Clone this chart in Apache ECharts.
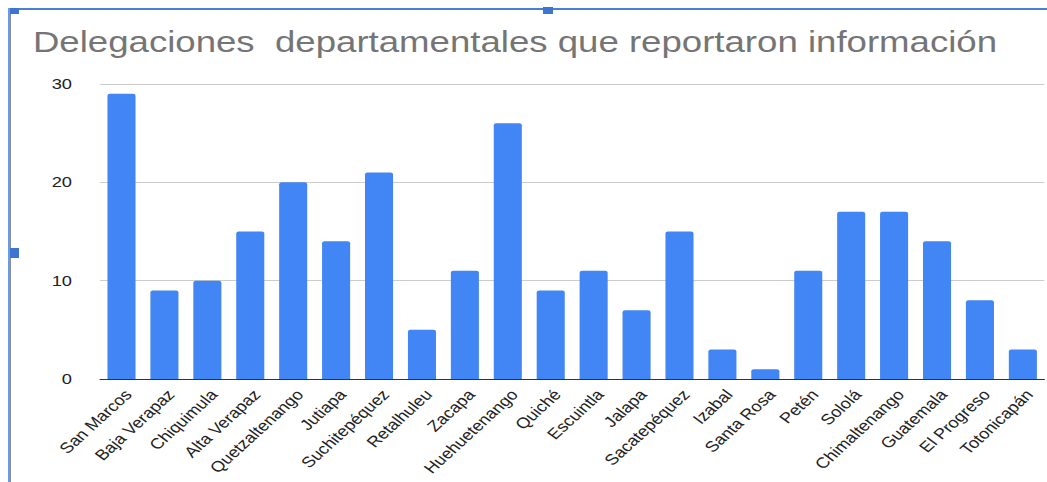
<!DOCTYPE html>
<html>
<head>
<meta charset="utf-8">
<script src="https://cdn.jsdelivr.net/npm/echarts@6/dist/echarts.min.js"></script>
<style>
html,body{margin:0;padding:0;background:#fff;overflow:hidden;}
#wrap{position:relative;width:1047px;height:482px;overflow:hidden;}
#c{position:absolute;left:0;top:0;width:858px;height:482px;transform:scaleX(1.22);transform-origin:0 0;}
.f{position:absolute;}
</style>
</head>
<body>
<div id="wrap">
<div id="c"></div>
<div class="f" style="left:10px;top:8px;width:1037px;height:2px;background:#4a7fd6;"></div>
<div class="f" style="left:8px;top:8px;width:2px;height:474px;background:#6b9be6;"></div>
<div class="f" style="left:10px;top:10px;width:1px;height:472px;background:#8a9099;"></div>
<div class="f" style="left:10px;top:8px;width:9px;height:6px;background:#3f74d1;"></div>
<div class="f" style="left:543px;top:7px;width:10px;height:7px;background:#3f74d1;"></div>
<div class="f" style="left:10px;top:248px;width:9px;height:10px;background:#3f74d1;"></div>
</div>
<script>
const titleText = 'Delegaciones  departamentales que reportaron información';
const categories = ['San Marcos','Baja Verapaz','Chiquimula','Alta Verapaz','Quetzaltenango','Jutiapa','Suchitepéquez','Retalhuleu','Zacapa','Huehuetenango','Quiché','Escuintla','Jalapa','Sacatepéquez','Izabal','Santa Rosa','Petén','Sololá','Chimaltenango','Guatemala','El Progreso','Totonicapán'];
const values = [29,9,10,15,20,14,21,5,11,26,9,11,7,15,3,1,11,17,17,14,8,3];
const yTicks = [0,10,20,30];

const chart = echarts.init(document.getElementById('c'), null, {renderer:'svg'});
chart.setOption({
  animation:false,
  backgroundColor:'#ffffff',
  grid:{left:82, right:2, top:84, bottom:103, containLabel:false},
  xAxis:{
    type:'category',
    data:categories,
    axisLine:{show:true, lineStyle:{color:'#333333', width:1}},
    axisTick:{show:false},
    axisLabel:{rotate:48, interval:0, margin:8, verticalAlign:'top', fontFamily:'Liberation Sans, Arial, sans-serif', fontSize:15, color:'#222222'}
  },
  yAxis:{
    type:'value',
    min:yTicks[0], max:yTicks[yTicks.length-1], interval:10,
    axisLine:{show:false},
    axisTick:{show:false},
    splitLine:{lineStyle:{color:'#cccccc', width:1}},
    axisLabel:{margin:23, fontFamily:'Liberation Sans, Arial, sans-serif', fontSize:15, color:'#222222'}
  },
  series:[{
    type:'bar',
    data:values,
    barWidth:23,
    itemStyle:{color:'#4285F4', borderRadius:[2,2,0,0]}
  }],
  graphic:[
    {type:'text', left:27, top:27, style:{text:titleText, font:'30px "Liberation Sans", Arial, sans-serif', fill:'#757575'}}
  ]
});
</script>
</body>
</html>
